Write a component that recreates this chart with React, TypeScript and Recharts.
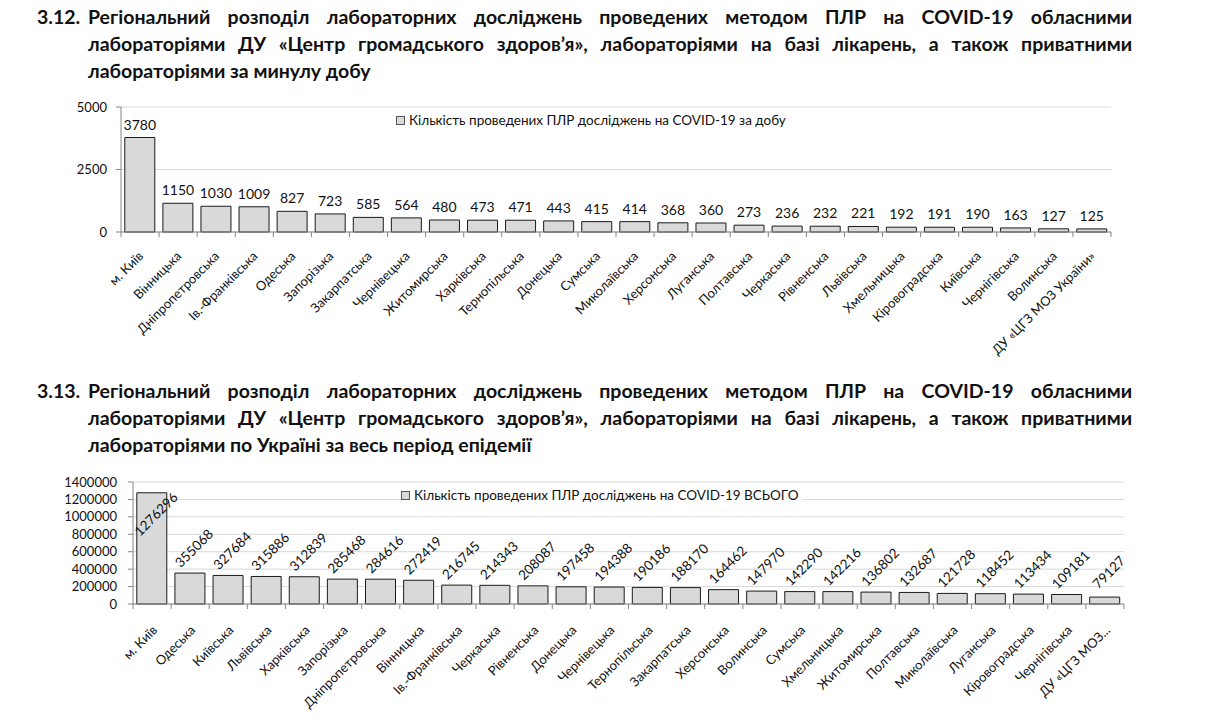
import { BarChart, Bar, XAxis, YAxis, CartesianGrid, LabelList } from "recharts";

const dailyRegions = [
  "м. Київ", "Вінницька", "Дніпропетровська", "Ів.-Франківська", "Одеська", "Запорізька",
  "Закарпатська", "Чернівецька", "Житомирська", "Харківська", "Тернопільська", "Донецька",
  "Сумська", "Миколаївська", "Херсонська", "Луганська", "Полтавська", "Черкаська",
  "Рівненська", "Львівська", "Хмельницька", "Кіровоградська", "Київська", "Чернігівська",
  "Волинська", "ДУ «ЦГЗ МОЗ України»",
];
const dailyTests = [
  3780, 1150, 1030, 1009, 827, 723, 585, 564, 480, 473, 471, 443, 415, 414, 368, 360,
  273, 236, 232, 221, 192, 191, 190, 163, 127, 125,
];
const dailyTicks = [0, 2500, 5000];
const dailyLegend = "Кількість проведених ПЛР досліджень на COVID-19 за добу";

const totalRegions = [
  "м. Київ", "Одеська", "Київська", "Львівська", "Харківська", "Запорізька",
  "Дніпропетровська", "Вінницька", "Ів.-Франківська", "Черкаська", "Рівненська", "Донецька",
  "Чернівецька", "Тернопільська", "Закарпатська", "Херсонська", "Волинська", "Сумська",
  "Хмельницька", "Житомирська", "Полтавська", "Миколаївська", "Луганська", "Кіровоградська",
  "Чернігівська", "ДУ «ЦГЗ МОЗ...",
];
const totalTests = [
  1276296, 355068, 327684, 315886, 312839, 285468, 284616, 272419, 216745, 214343, 208087,
  197458, 194388, 190186, 188170, 164462, 147970, 142290, 142216, 136802, 132687, 121728,
  118452, 113434, 109181, 79127,
];
const totalTicks = [0, 200000, 400000, 600000, 800000, 1000000, 1200000, 1400000];
const totalLegend = "Кількість проведених ПЛР досліджень на COVID-19 ВСЬОГО";

const FONT = "Lato, 'Open Sans', sans-serif";
const AXIS = "#868686";

const dailyData = dailyRegions.map((region, i) => ({ region, value: dailyTests[i] }));
const totalData = totalRegions.map((region, i) => ({ region, value: totalTests[i] }));

function RegionTick(props: any) {
  const { x, y, payload, index, band, count, dx, dy } = props;
  const tx = x + dx;
  const ty = y + dy;
  return (
    <g>
      <line x1={x - band / 2} x2={x - band / 2} y1={y} y2={y + 5} stroke={AXIS} />
      {index === count - 1 && <line x1={x + band / 2} x2={x + band / 2} y1={y} y2={y + 5} stroke={AXIS} />}
      <text
        x={tx}
        y={ty}
        transform={`rotate(-45 ${tx} ${ty})`}
        textAnchor="end"
        fontSize={13}
        fontFamily={FONT}
        fill="#111"
      >
        {payload.value}
      </text>
    </g>
  );
}

function LegendBox({ label, left, top }: { label: string; left: number; top: number }) {
  return (
    <div style={{ position: "absolute", left, top, display: "flex", alignItems: "center", background: "#fff", fontFamily: FONT, fontSize: 13.5, color: "#111", paddingRight: 4, lineHeight: "16px" }}>
      <span style={{ width: 7, height: 7, border: "1px solid #555", background: "#d9d9d9", marginRight: 4 }} />
      {label}
    </div>
  );
}

function RotatedValue(props: any) {
  const { x, y, width, value, plotTop } = props;
  const cx = x + width / 2 + 4;
  const cy = Math.max(y - 25, plotTop + 32);
  return (
    <text
      x={cx}
      y={cy}
      transform={`rotate(-45 ${cx} ${cy})`}
      textAnchor="middle"
      dominantBaseline="central"
      fontSize={13.5}
      fontFamily={FONT}
      fill="#111"
    >
      {value}
    </text>
  );
}

function Title({ num, lines, top }: { num: string; lines: string[]; top: number }) {
  return (
    <div style={{ position: "absolute", left: 0, top, width: 1206, fontFamily: FONT, fontWeight: 700, fontSize: 19.5, color: "#111", lineHeight: "27px" }}>
      <div style={{ position: "absolute", left: 37, top: 0 }}>{num}</div>
      {lines.map((l, i) => (
        <div
          key={i}
          style={{
            position: "absolute",
            left: 88,
            top: i * 27,
            width: 1044,
            whiteSpace: "nowrap",
            textAlign: i < lines.length - 1 ? "justify" : "left",
            textAlignLast: i < lines.length - 1 ? "justify" : "left",
          }}
        >
          {l}
        </div>
      ))}
    </div>
  );
}

export default function App() {
  const dailyBand = (1111 - 121) / dailyData.length;
  const totalBand = (1124 - 133) / totalData.length;
  return (
    <div style={{ position: "absolute", left: 0, top: 0, width: 1206, height: 725, background: "#fff", overflow: "hidden" }}>
      <Title
        num="3.12."
        top={3}
        lines={[
          "Регіональний розподіл лабораторних досліджень проведених методом ПЛР на COVID-19 обласними",
          "лабораторіями ДУ «Центр громадського здоров’я», лабораторіями на базі лікарень, а також приватними",
          "лабораторіями за минулу добу",
        ]}
      />
      <div style={{ position: "absolute", left: 0, top: 95, width: 1206, height: 275 }}>
        <BarChart width={1206} height={275} data={dailyData} margin={{ top: 12, right: 95, bottom: 0, left: 0 }} barCategoryGap="10%">
          <CartesianGrid vertical={false} stroke="#d9d9d9" />
          <XAxis
            dataKey="region"
            interval={0}
            height={138}
            axisLine={{ stroke: AXIS }}
            tickLine={false}
            tickSize={0}
            tickMargin={0}
            tick={<RegionTick band={dailyBand} count={dailyData.length} dx={4} dy={25} />}
          />
          <YAxis
            width={121}
            domain={[0, 5000]}
            ticks={dailyTicks}
            axisLine={{ stroke: AXIS }}
            tickLine={{ stroke: AXIS }}
            tickSize={5}
            tickMargin={9}
            tick={{ fontSize: 13, fontFamily: FONT, fill: "#111" }}
          />
          <Bar dataKey="value" name={dailyLegend} fill="#d9d9d9" stroke="#1a1a1a" strokeWidth={1} isAnimationActive={false}>
            <LabelList dataKey="value" position="top" offset={8} style={{ fontSize: 14, fontFamily: FONT, fill: "#111" }} />
          </Bar>
        </BarChart>
        <LegendBox label={dailyLegend} left={396} top={17} />
      </div>
      <Title
        num="3.13."
        top={377}
        lines={[
          "Регіональний розподіл лабораторних досліджень проведених методом ПЛР на COVID-19 обласними",
          "лабораторіями ДУ «Центр громадського здоров’я», лабораторіями на базі лікарень, а також приватними",
          "лабораторіями по Україні за весь період епідемії",
        ]}
      />
      <div style={{ position: "absolute", left: 0, top: 470, width: 1206, height: 255 }}>
        <BarChart width={1206} height={255} data={totalData} margin={{ top: 12, right: 82, bottom: 0, left: 0 }} barCategoryGap="10%">
          <CartesianGrid vertical={false} stroke="#d9d9d9" />
          <XAxis
            dataKey="region"
            interval={0}
            height={121}
            axisLine={{ stroke: AXIS }}
            tickLine={false}
            tickSize={0}
            tickMargin={0}
            tick={<RegionTick band={totalBand} count={totalData.length} dx={6} dy={27} />}
          />
          <YAxis
            width={133}
            domain={[0, 1400000]}
            ticks={totalTicks}
            interval={0}
            axisLine={{ stroke: AXIS }}
            tickLine={{ stroke: AXIS }}
            tickSize={5}
            tickMargin={11}
            tick={{ fontSize: 13, fontFamily: FONT, fill: "#111" }}
          />
          <Bar dataKey="value" name={totalLegend} fill="#d9d9d9" stroke="#1a1a1a" strokeWidth={1} isAnimationActive={false}>
            <LabelList dataKey="value" content={<RotatedValue plotTop={12} />} />
          </Bar>
        </BarChart>
        <LegendBox label={totalLegend} left={401} top={17} />
      </div>
    </div>
  );
}
